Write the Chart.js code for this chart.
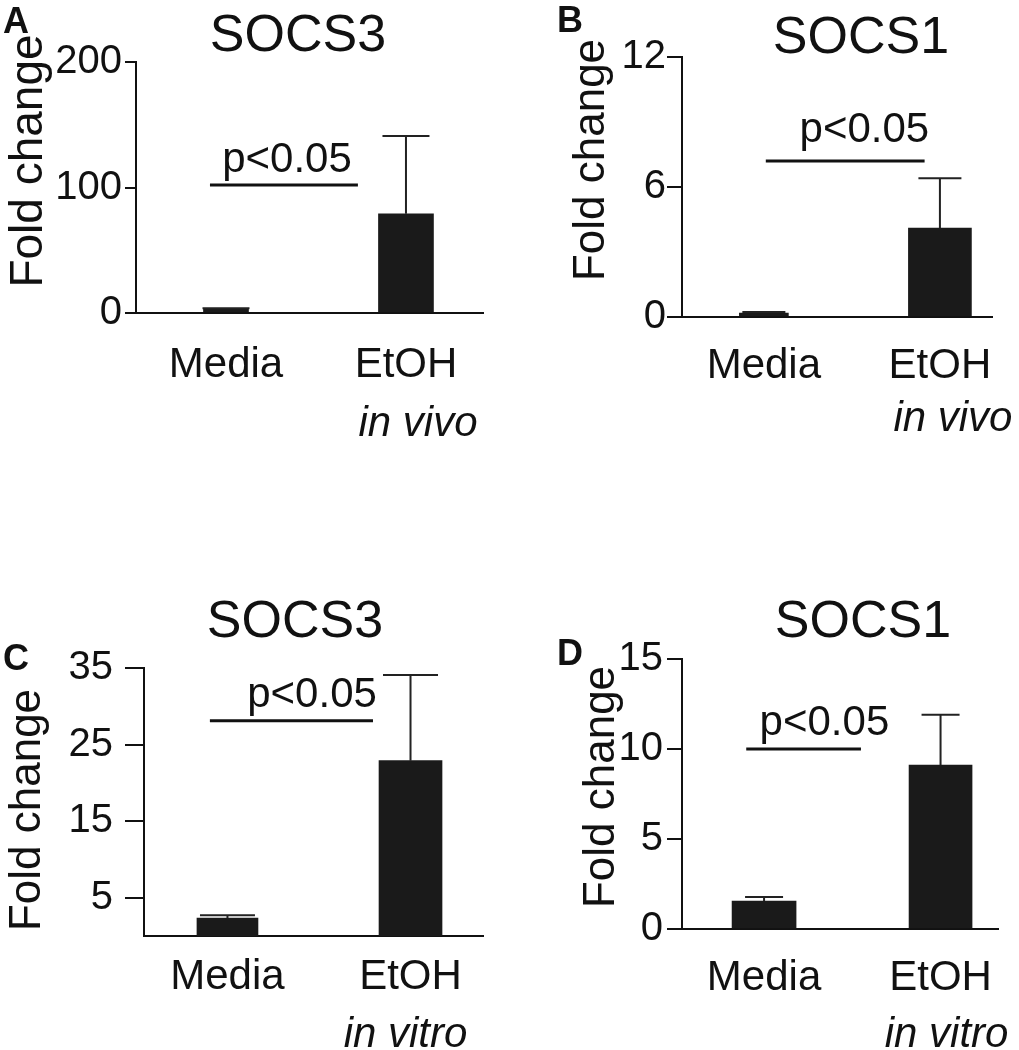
<!DOCTYPE html>
<html>
<head>
<meta charset="utf-8">
<script src="https://cdn.jsdelivr.net/npm/chart.js@4.4.1/dist/chart.umd.min.js"></script>
<style>
html,body{margin:0;padding:0;background:#fff;}
#wrap{position:relative;width:1019px;height:1050px;overflow:hidden;background:#fff;}
canvas{position:absolute;}
</style>
</head>
<body>
<div id="wrap">
<canvas id="cA" width="509" height="525" style="left:0;top:0;width:509px;height:525px"></canvas>
<canvas id="cB" width="510" height="525" style="left:509px;top:0;width:510px;height:525px"></canvas>
<canvas id="cC" width="509" height="525" style="left:0;top:525px;width:509px;height:525px"></canvas>
<canvas id="cD" width="510" height="525" style="left:509px;top:525px;width:510px;height:525px"></canvas>
</div>
<script>
// ---- data ----
const categories = ['Media', 'EtOH'];
const subLabelsVivo = ['', 'in vivo'];
const subLabelsVitro = ['', 'in vitro'];
const yTitle = 'Fold change';
const sigText = 'p<0.05';

// A: SOCS3 in vivo
const socs3VivoMean = [3, 79];
const socs3VivoErr = [0.8, 62];
const socs3VivoTicks = [0, 100, 200];
const socs3VivoSig = 102;
// B: SOCS1 in vivo
const socs1VivoMean = [0.18, 4.1];
const socs1VivoErr = [0.05, 2.3];
const socs1VivoTicks = [0, 6, 12];
const socs1VivoSig = 7.2;
// C: SOCS3 in vitro
const socs3VitroMean = [2.35, 22.9];
const socs3VitroErr = [0.35, 11.2];
const socs3VitroTicks = [5, 15, 25, 35];
const socs3VitroSig = 28.1;
// D: SOCS1 in vitro
const socs1VitroMean = [1.55, 9.1];
const socs1VitroErr = [0.23, 2.8];
const socs1VitroTicks = [0, 5, 10, 15];
const socs1VitroSig = 10.0;

const FONT = "'Liberation Sans', Arial, Helvetica, sans-serif";
Chart.defaults.font.family = FONT;
Chart.defaults.color = '#111';

const deco = {
  id: 'deco',
  afterDatasetsDraw(chart, args, o) {
    const ctx = chart.ctx, xs = chart.scales.x, ys = chart.scales.y;
    ctx.save();
    // error bars (upper)
    ctx.strokeStyle = '#222';
    ctx.lineWidth = 2;
    o.means.forEach((m, i) => {
      const e = o.errs[i];
      if (!e) return;
      const x = xs.getPixelForValue(i);
      const yb = ys.getPixelForValue(m);
      const yt = ys.getPixelForValue(m + e);
      ctx.beginPath();
      ctx.moveTo(x, yb); ctx.lineTo(x, yt);
      ctx.moveTo(x - o.capW / 2, yt); ctx.lineTo(x + o.capW / 2, yt);
      ctx.stroke();
    });
    // significance line
    const sy = ys.getPixelForValue(o.sigLevel);
    ctx.strokeStyle = '#111';
    ctx.lineWidth = 3;
    ctx.beginPath();
    ctx.moveTo(xs.getPixelForValue(o.sigFrom), sy);
    ctx.lineTo(xs.getPixelForValue(o.sigTo), sy);
    ctx.stroke();
    ctx.fillStyle = '#111';
    ctx.textAlign = 'center';
    ctx.textBaseline = 'alphabetic';
    ctx.font = '42px ' + FONT;
    ctx.fillText(sigText, xs.getPixelForValue(o.sigTextX), sy - o.sigGap);
    // italic second line of category labels
    ctx.font = 'italic 42px ' + FONT;
    o.sub.forEach((t, i) => {
      if (t) ctx.fillText(t, xs.getPixelForValue(i) + o.subDx, o.subBase);
    });
    // panel title
    ctx.font = '52px ' + FONT;
    ctx.fillText(o.title, o.titleX, o.titleBase);
    // panel letter
    ctx.font = 'bold 36px ' + FONT;
    ctx.textAlign = 'left';
    ctx.fillText(o.letter, o.letterX, o.letterBase);
    // y axis title
    ctx.save();
    ctx.translate(o.yTitleX, o.yTitleY);
    ctx.rotate(-Math.PI / 2);
    ctx.textAlign = 'center';
    ctx.font = o.yTitleSize + 'px ' + FONT;
    ctx.fillText(yTitle, 0, 0);
    ctx.restore();
    ctx.restore();
  }
};

function makePanel(id, p) {
  const datasets = categories.map((c, i) => ({
    label: c,
    data: [{ x: i, y: p.means[i] }],
    backgroundColor: '#1a1a1a',
    borderWidth: 0,
    barThickness: p.barW[i],
    grouped: false
  }));
  return new Chart(document.getElementById(id), {
    type: 'bar',
    data: { datasets },
    options: {
      responsive: false,
      animation: false,
      devicePixelRatio: 1,
      layout: { padding: { top: p.area.top, right: p.area.right, left: 0, bottom: 0 } },
      plugins: {
        legend: { display: false },
        tooltip: { enabled: false },
        title: { display: false },
        deco: {
          means: p.means, errs: p.errs, capW: p.capW,
          sigLevel: p.sigLevel, sigFrom: p.sigFrom, sigTo: p.sigTo, sigTextX: p.sigTextX, sigGap: p.sigGap,
          sub: p.sub, subDx: p.subDx, subBase: p.subBase,
          title: p.title, titleX: p.titleX, titleBase: p.titleBase,
          letter: p.letter, letterX: p.letterX, letterBase: p.letterBase,
          yTitleX: p.yTitleX, yTitleY: p.yTitleY, yTitleSize: p.yTitleSize
        }
      },
      scales: {
        x: {
          type: 'linear', offset: false, min: p.xMin, max: p.xMax,
          afterFit: s => { s.height = p.area.xh; },
          afterBuildTicks: s => { s.ticks = categories.map((c, i) => ({ value: i })); },
          grid: { display: false, drawTicks: false },
          border: { display: true, color: '#111', width: 2 },
          ticks: {
            autoSkip: false, maxRotation: 0, minRotation: 0, padding: p.xPad,
            font: { size: 42 }, color: '#111',
            callback: v => categories[v]
          }
        },
        y: {
          type: 'linear', min: p.yMin, max: p.yMax,
          afterFit: s => { s.width = p.area.left; },
          afterBuildTicks: s => { s.ticks = p.yTicks.map(v => ({ value: v })); },
          grid: { drawOnChartArea: false, drawTicks: true, tickLength: p.tickLen, color: '#111', lineWidth: 2 },
          border: { display: true, color: '#111', width: 2 },
          ticks: { padding: p.yPad, font: { size: 40 }, color: '#111' }
        }
      }
    },
    plugins: [deco]
  });
}

makePanel('cA', {
  means: socs3VivoMean, errs: socs3VivoErr, yMin: 0, yMax: 200, yTicks: socs3VivoTicks,
  area: { left: 136, top: 62, right: 26, xh: 212 }, xMin: -0.5, xMax: 1.428,
  barW: [45, 55], capW: 47, tickLen: 11, yPad: 3, xPad: 27,
  sigLevel: socs3VivoSig, sigFrom: -0.089, sigTo: 0.733, sigTextX: 0.339, sigGap: 13,
  sub: subLabelsVivo, subDx: 12, subBase: 436,
  title: 'SOCS3', titleX: 298, titleBase: 51, letter: 'A', letterX: 3, letterBase: 33,
  yTitleX: 42, yTitleY: 161, yTitleSize: 46
});
makePanel('cB', {
  means: socs1VivoMean, errs: socs1VivoErr, yMin: 0, yMax: 12, yTicks: socs1VivoTicks,
  area: { left: 173, top: 57, right: 22, xh: 208 }, xMin: -0.465, xMax: 1.300,
  barW: [49, 63], capW: 43, tickLen: 15, yPad: 1, xPad: 24,
  sigLevel: socs1VivoSig, sigFrom: 0.011, sigTo: 0.913, sigTextX: 0.571, sigGap: 19,
  sub: subLabelsVivo, subDx: 13, subBase: 431,
  title: 'SOCS1', titleX: 352, titleBase: 53, letter: 'B', letterX: 48, letterBase: 32,
  yTitleX: 95, yTitleY: 160, yTitleSize: 44
});
makePanel('cC', {
  means: socs3VitroMean, errs: socs3VitroErr, yMin: 0, yMax: 35, yTicks: socs3VitroTicks,
  area: { left: 144, top: 143, right: 26, xh: 114 }, xMin: -0.456, xMax: 1.396,
  barW: [61, 63], capW: 55, tickLen: 19, yPad: 12, xPad: 16,
  sigLevel: socs3VitroSig, sigFrom: -0.096, sigTo: 0.795, sigTextX: 0.462, sigGap: 14,
  sub: subLabelsVitro, subDx: -5, subBase: 522,
  title: 'SOCS3', titleX: 295, titleBase: 112, letter: 'C', letterX: 3, letterBase: 145,
  yTitleX: 40, yTitleY: 285, yTitleSize: 44
});
makePanel('cD', {
  means: socs1VitroMean, errs: socs1VitroErr, yMin: 0, yMax: 15, yTicks: socs1VitroTicks,
  area: { left: 173, top: 134, right: 17, xh: 121 }, xMin: -0.465, xMax: 1.328,
  barW: [64, 63], capW: 38, tickLen: 15, yPad: 4, xPad: 24,
  sigLevel: socs1VitroSig, sigFrom: -0.101, sigTo: 0.549, sigTextX: 0.342, sigGap: 14,
  sub: subLabelsVitro, subDx: 6, subBase: 522,
  title: 'SOCS1', titleX: 354, titleBase: 112, letter: 'D', letterX: 48, letterBase: 140,
  yTitleX: 105, yTitleY: 262, yTitleSize: 44
});
</script>
</body>
</html>
